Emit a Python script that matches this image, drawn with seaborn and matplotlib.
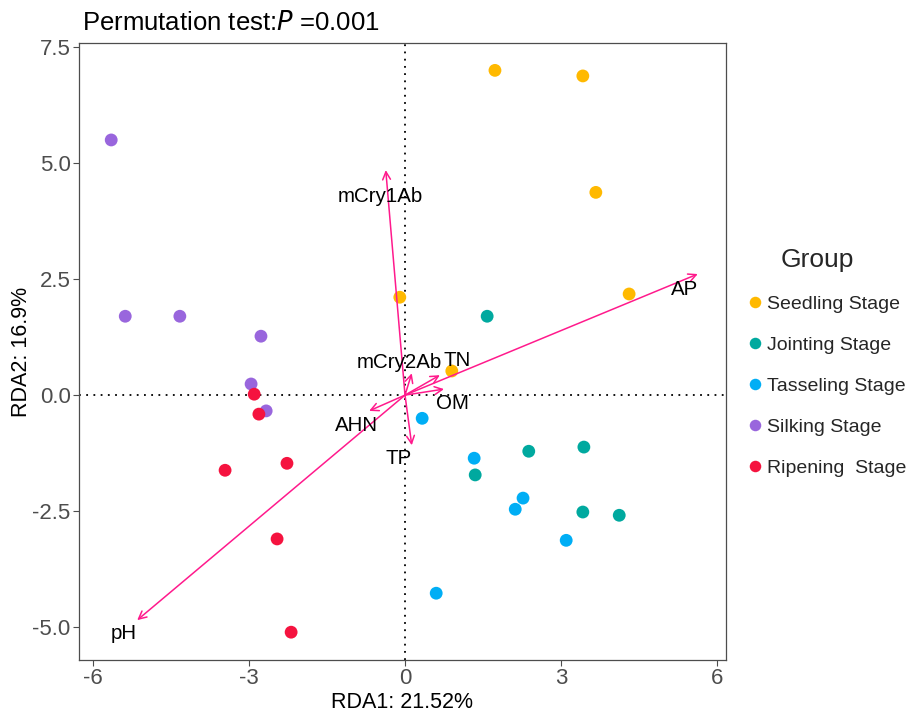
import matplotlib
matplotlib.use("Agg")
import matplotlib.pyplot as plt
import seaborn as sns
import pandas as pd

groups = ["Seedling Stage", "Jointing Stage", "Tasseling Stage", "Silking Stage", "Ripening  Stage"]
palette = ["#FFB900", "#00A99F", "#00AEF5", "#9966DD", "#F5133F"]

seedling_x = [1.73, 3.42, 3.67, 4.31, -0.10, 0.90]
seedling_y = [7.00, 6.88, 4.37, 2.18, 2.11, 0.52]
jointing_x = [1.58, 2.38, 3.44, 1.35, 3.42, 4.12]
jointing_y = [1.70, -1.21, -1.12, -1.72, -2.52, -2.59]
tasseling_x = [0.33, 1.33, 2.27, 2.12, 3.10, 0.60]
tasseling_y = [-0.50, -1.36, -2.22, -2.46, -3.13, -4.27]
silking_x = [-5.65, -5.38, -4.33, -2.77, -2.96, -2.67]
silking_y = [5.50, 1.70, 1.70, 1.27, 0.24, -0.34]
ripening_x = [-2.90, -2.81, -3.46, -2.27, -2.46, -2.19]
ripening_y = [0.02, -0.41, -1.62, -1.47, -3.10, -5.11]

env_names = ["AP", "pH", "mCry1Ab", "TP", "AHN", "OM", "TN", "mCry2Ab"]
env_x = [5.63, -5.15, -0.37, 0.13, -0.69, 0.75, 0.67, 0.13]
env_y = [2.61, -4.85, 4.85, -1.08, -0.34, 0.13, 0.43, 0.47]
lab_x = [5.38, -5.40, -0.48, -0.13, -0.94, 0.92, 1.00, -0.10]
lab_y = [2.28, -5.13, 4.29, -1.36, -0.65, -0.17, 0.75, 0.71]

xs = [seedling_x, jointing_x, tasseling_x, silking_x, ripening_x]
ys = [seedling_y, jointing_y, tasseling_y, silking_y, ripening_y]
rows = []
for g, xx, yy in zip(groups, xs, ys):
    for a, b in zip(xx, yy):
        rows.append({"RDA1": a, "RDA2": b, "Group": g})
df = pd.DataFrame(rows)

sns.set_theme(style="white")
plt.rcParams["font.family"] = ["Liberation Sans", "DejaVu Sans"]

fig = plt.figure(figsize=(9.13, 7.13), dpi=100)
ax = fig.add_axes([0.0865, 0.0743, 0.7085, 0.8654])

ax.axhline(0, color="black", linestyle=(0, (1, 3)), linewidth=1.3, zorder=1)
ax.axvline(0, color="black", linestyle=(0, (1, 3)), linewidth=1.3, zorder=1)

sns.scatterplot(data=df, x="RDA1", y="RDA2", hue="Group", hue_order=groups,
                palette=palette, s=85, edgecolor="none", ax=ax, zorder=3)

arrow_col = "#FF1A8C"
for n, ex, ey, lx, ly in zip(env_names, env_x, env_y, lab_x, lab_y):
    ax.annotate("", xy=(ex, ey), xytext=(0, 0),
                arrowprops=dict(arrowstyle="->", color=arrow_col, lw=1.1,
                                mutation_scale=14, shrinkA=0, shrinkB=0), zorder=4)
    ax.text(lx, ly, n, fontsize=14.8, ha="center", va="center", color="black", zorder=5)

ax.set_xlim(-6.27, 6.17)
ax.set_ylim(-5.71, 7.59)
ax.set_xticks([-6, -3, 0, 3, 6])
ax.set_xticklabels(["-6", "-3", "0", "3", "6"])
ax.set_yticks([-5, -2.5, 0, 2.5, 5, 7.5])
ax.set_yticklabels(["-5.0", "-2.5", "0.0", "2.5", "5.0", "7.5"])
ax.tick_params(axis="both", which="both", direction="out", length=4, width=0.8,
               colors="#4D4D4D", labelsize=16, bottom=True, left=True, pad=2)
for lab in ax.get_xticklabels() + ax.get_yticklabels():
    lab.set_color("#4D4D4D")
for sp in ax.spines.values():
    sp.set_color("#4D4D4D")
    sp.set_linewidth(0.9)
ax.set_xlabel("RDA1: 21.52%", fontsize=15.5, color="black", labelpad=2)
ax.set_ylabel("RDA2: 16.9%", fontsize=15.5, color="black", labelpad=0)
ax.set_title("Permutation test:$\\it{P}$ =0.001", fontsize=18.5, loc="left",
             x=0.005, pad=9, color="black")

leg = ax.legend(title="Group", loc="upper left",
                bbox_to_anchor=(745 / 913, 1 - 248 / 713),
                bbox_transform=fig.transFigure,
                frameon=False, fontsize=14, title_fontsize=19,
                labelspacing=1.2, handletextpad=0.13, handlelength=1.0,
                markerscale=0.9, borderpad=0, borderaxespad=0)
leg._legend_box.align = "left"
leg.get_title().set_position((36, 0))

fig.savefig("out.png", dpi=100, facecolor="white")
